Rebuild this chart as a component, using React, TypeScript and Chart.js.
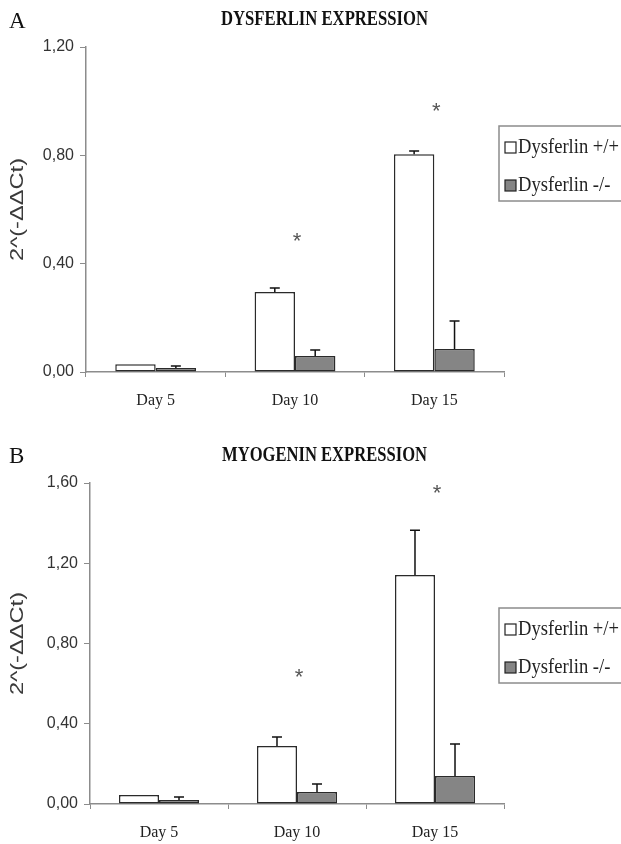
import { useEffect, useRef } from "react";
import { Chart, registerables } from "chart.js";

Chart.register(...registerables);

// ---- data ----
const categories = ["Day 5", "Day 10", "Day 15"];
const seriesLabels = ["Dysferlin +/+", "Dysferlin -/-"];

const dysferlinWT = [0.029, 0.295, 0.804];
const dysferlinWTErr = [0, 0.015, 0.012];
const dysferlinKO = [0.015, 0.059, 0.085];
const dysferlinKOErr = [0.007, 0.022, 0.103];
const dysferlinStars = [null, 0.5, 0.98];
const dysferlinTicks = [0, 0.4, 0.8, 1.2];

const myogeninWT = [0.045, 0.289, 1.141];
const myogeninWTErr = [0, 0.045, 0.224];
const myogeninKO = [0.02, 0.06, 0.139];
const myogeninKOErr = [0.015, 0.04, 0.16];
const myogeninStars = [null, 0.653, 1.569];
const myogeninTicks = [0, 0.4, 0.8, 1.2, 1.6];

const WHITE = "#ffffff";
const GRAY = "#858585";
const AXIS = "#8c8c8c";

type Panel = {
  letter: string;
  title: string;
  wt: number[];
  wtErr: number[];
  ko: number[];
  koErr: number[];
  stars: (number | null)[];
  ticks: number[];
  padTop: number;
  yWidth: number;
  xHeight: number;
  titleBase: number;
  titleWidth: number;
  letterBase: number;
  legendTop: number;
};

const panelA: Panel = {
  letter: "A",
  title: "DYSFERLIN EXPRESSION",
  wt: dysferlinWT,
  wtErr: dysferlinWTErr,
  ko: dysferlinKO,
  koErr: dysferlinKOErr,
  stars: dysferlinStars,
  ticks: dysferlinTicks,
  padTop: 47,
  yWidth: 86,
  xHeight: 50,
  titleBase: 25,
  titleWidth: 207,
  letterBase: 28,
  legendTop: 126,
};

const panelB: Panel = {
  letter: "B",
  title: "MYOGENIN EXPRESSION",
  wt: myogeninWT,
  wtErr: myogeninWTErr,
  ko: myogeninKO,
  koErr: myogeninKOErr,
  stars: myogeninStars,
  ticks: myogeninTicks,
  padTop: 61,
  yWidth: 90,
  xHeight: 40,
  titleBase: 39,
  titleWidth: 205,
  letterBase: 41,
  legendTop: 186,
};

function fitText(ctx: CanvasRenderingContext2D, text: string, x: number, y: number, scale: number, align: CanvasTextAlign) {
  ctx.save();
  ctx.translate(x, y);
  ctx.scale(scale, 1);
  ctx.textAlign = align;
  ctx.fillText(text, 0, 0);
  ctx.restore();
}

const overlayPlugin = {
  id: "overlay",
  afterDatasetsDraw(chart: any, _args: any, opts: any) {
    const p: Panel = opts.panel;
    const ctx: CanvasRenderingContext2D = chart.ctx;
    const ys = chart.scales.y;
    const xs = chart.scales.x;
    const area = chart.chartArea;
    const errs = [p.wtErr, p.koErr];

    // error bars
    ctx.save();
    ctx.strokeStyle = "#111";
    ctx.lineWidth = 1.5;
    chart.data.datasets.forEach((ds: any, di: number) => {
      const meta = chart.getDatasetMeta(di);
      meta.data.forEach((bar: any, i: number) => {
        const e = errs[di][i];
        if (!e) return;
        const top = ys.getPixelForValue(ds.data[i] + e);
        ctx.beginPath();
        ctx.moveTo(bar.x, bar.y);
        ctx.lineTo(bar.x, top);
        ctx.moveTo(bar.x - 5, top);
        ctx.lineTo(bar.x + 5, top);
        ctx.stroke();
      });
    });
    ctx.restore();

    // significance stars
    ctx.save();
    ctx.fillStyle = "#555";
    ctx.font = "22px 'Liberation Sans'";
    ctx.textAlign = "center";
    ctx.textBaseline = "alphabetic";
    const m = ctx.measureText("*");
    const mid = (m.actualBoundingBoxAscent - m.actualBoundingBoxDescent) / 2;
    p.stars.forEach((v, i) => {
      if (v == null) return;
      const cx = xs.getPixelForValue(i);
      const cy = ys.getPixelForValue(v);
      ctx.fillText("*", cx + 2, cy + mid);
    });
    ctx.restore();

    // panel letter
    ctx.save();
    ctx.fillStyle = "#111";
    ctx.font = "23px 'Liberation Serif'";
    ctx.textAlign = "left";
    ctx.fillText(p.letter, 9, p.letterBase);
    ctx.restore();

    // title
    ctx.save();
    ctx.fillStyle = "#111";
    ctx.font = "bold 21px 'Liberation Serif'";
    const tw = ctx.measureText(p.title).width;
    fitText(ctx, p.title, 324.5, p.titleBase, p.titleWidth / tw, "center");
    ctx.restore();

    // y axis title
    ctx.save();
    ctx.fillStyle = "#3a3a3a";
    ctx.font = "18px 'Liberation Sans'";
    ctx.textBaseline = "middle";
    const yt = "2^(-\u0394\u0394Ct)";
    const yw = ctx.measureText(yt).width;
    ctx.translate(18, (area.top + area.bottom) / 2);
    ctx.rotate(-Math.PI / 2);
    fitText(ctx, yt, 0, 0, 103 / yw, "center");
    ctx.restore();

    // legend
    ctx.save();
    const lt = p.legendTop;
    ctx.fillStyle = "#fff";
    ctx.fillRect(499, lt, 124, 75);
    ctx.strokeStyle = AXIS;
    ctx.lineWidth = 1.5;
    ctx.strokeRect(499, lt, 124, 75);
    ctx.font = "22px 'Liberation Serif'";
    const lw = ctx.measureText(seriesLabels[0]).width;
    const ls = 101 / lw;
    chart.data.datasets.forEach((ds: any, di: number) => {
      const sy = lt + 16 + di * 38;
      ctx.fillStyle = ds.backgroundColor;
      ctx.fillRect(505, sy, 11, 11);
      ctx.strokeStyle = "#222";
      ctx.lineWidth = 1.2;
      ctx.strokeRect(505, sy, 11, 11);
      ctx.fillStyle = "#222";
      fitText(ctx, ds.label, 518, sy + 11, ls, "left");
    });
    ctx.restore();
  },
};

function makeConfig(p: Panel): any {
  return {
    type: "bar",
    data: {
      labels: categories,
      datasets: [
        {
          label: seriesLabels[0],
          data: p.wt,
          backgroundColor: WHITE,
          borderColor: "#2a2a2a",
          borderWidth: 1.5,
          borderSkipped: false,
          categoryPercentage: 0.58,
          barPercentage: 1,
        },
        {
          label: seriesLabels[1],
          data: p.ko,
          backgroundColor: GRAY,
          borderColor: "#2a2a2a",
          borderWidth: 1.5,
          borderSkipped: false,
          categoryPercentage: 0.58,
          barPercentage: 1,
        },
      ],
    },
    options: {
      animation: false,
      responsive: false,
      layout: { padding: { top: p.padTop, right: 117, left: 0, bottom: 0 } },
      plugins: {
        legend: { display: false },
        title: { display: false },
        tooltip: { enabled: false },
        overlay: { panel: p },
      },
      scales: {
        x: {
          grid: { drawOnChartArea: false, drawTicks: true, tickLength: 5, color: AXIS, offset: true },
          border: { display: true, color: AXIS, width: 1.5 },
          ticks: { color: "#222", padding: 14, font: { family: "'Liberation Serif'", size: 16 } },
          afterFit: (s: any) => {
            s.height = p.xHeight;
          },
        },
        y: {
          min: 0,
          max: p.ticks[p.ticks.length - 1],
          grid: { drawOnChartArea: false, drawTicks: true, tickLength: 6, color: AXIS },
          border: { display: true, color: AXIS, width: 1.5 },
          ticks: {
            color: "#333",
            padding: 6,
            font: { family: "'Liberation Sans'", size: 16 },
            callback: (v: number) => v.toFixed(2).replace(".", ","),
          },
          afterBuildTicks: (s: any) => {
            s.ticks = p.ticks.map((v) => ({ value: v }));
          },
          afterFit: (s: any) => {
            s.width = p.yWidth;
          },
        },
      },
    },
    plugins: [overlayPlugin],
  };
}

function PanelChart({ panel }: { panel: Panel }) {
  const ref = useRef<HTMLCanvasElement>(null);
  useEffect(() => {
    if (!ref.current) return;
    const chart = new Chart(ref.current, makeConfig(panel));
    return () => chart.destroy();
  }, [panel]);
  return <canvas ref={ref} width={621} height={422} style={{ display: "block", width: 621, height: 422 }} />;
}

export default function App() {
  return (
    <div style={{ position: "absolute", left: 0, top: 0, width: 621, height: 844, background: "#fff" }}>
      <PanelChart panel={panelA} />
      <PanelChart panel={panelB} />
    </div>
  );
}
